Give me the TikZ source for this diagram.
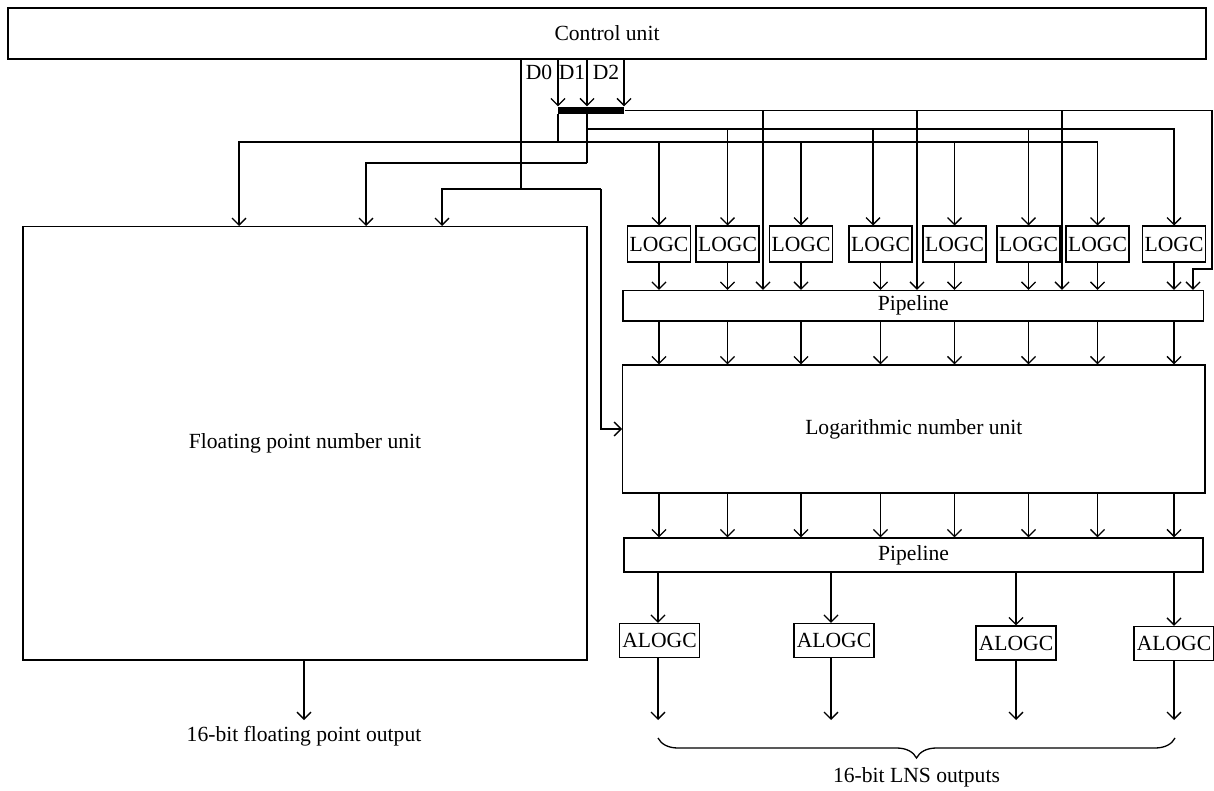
\documentclass[tikz,border=0pt]{standalone}
\usepackage{fontspec}
\setmainfont{Liberation Serif}
\usetikzlibrary{arrows.meta,decorations.pathreplacing,calc}
\begin{document}
\begin{tikzpicture}[x=0.5pt,y=-0.5pt,
  line width=0.65pt,
  font=\fontsize{10.8}{13}\selectfont,
  box/.style={draw, inner sep=0pt, line width=0.65pt},
  logc/.style={box, minimum width=31.5pt, minimum height=17.85pt},
  alogc/.style={box, minimum width=40pt, minimum height=17pt},
  arr/.style={-{Straight Barb[length=3.5pt,width=7pt,line width=0.65pt]}},
  ]
\useasboundingbox (0,0) rectangle (1214,791);
% main blocks
\node[box, minimum width=599pt, minimum height=25.5pt] (cu) at (607,33.5) {Control unit};
\node[box, minimum width=282pt, minimum height=216.7pt] (fpu) at (305,443.35) {Floating point number unit};
\node[box, minimum width=291.15pt, minimum height=64pt] (lnu) at (913.85,429) {Logarithmic number unit};
\node[box, minimum width=290.25pt, minimum height=15.25pt] (p1) at (913.25,305.75) {Pipeline};
\node[box, minimum width=289.5pt, minimum height=17pt] (p2) at (913.5,555) {Pipeline};
% LOGC row
\foreach \i/\x in {1/659,2/727.5,3/801,4/880.5,5/954.5,6/1028.5,7/1097.5,8/1174}
  \node[logc] (L\i) at (\x,244) {LOGC};
% ALOGC row
\node[alogc] (A1) at (659.5,640.5) {ALOGC};
\node[alogc] (A2) at (834,640.5) {ALOGC};
\node[alogc] (A3) at (1016,643) {ALOGC};
\node[alogc] (A4) at (1174,643.5) {ALOGC};
% labels
\node (d0) at (539,72) {D0};
\node (d1) at (572,72) {D1};
\node (d2) at (606,72) {D2};
\node (fout) at (304,736) {16-bit floating point output};
\node (lout) at (916.5,777) {16-bit LNS outputs};
% bus
\node[fill=black, inner sep=0pt, minimum width=33pt, minimum height=3.5pt] (bus) at (591,110.5) {};
\coordinate (b1) at (558,114);
\coordinate (b2) at (587,114);
\coordinate (b3) at (624,110.5);
\draw[arr] (b1 |- cu.south) -- (b1 |- bus.north);
\draw[arr] (b2 |- cu.south) -- (b2 |- bus.north);
\draw[arr] (b3 |- cu.south) -- (b3 |- bus.north);
% D0 line
\coordinate (j0) at (521,189);
\coordinate (jl) at (442,189);
\coordinate (jr) at (601,189);
\draw (j0 |- cu.south) -- (j0);
\draw[arr] (jr) -- (jl) -- (jl |- fpu.north);
\draw[arr] (jr) |- (lnu.west);
% line A (from right end of bus)
\coordinate (ra) at (1212,110.5);
\coordinate (rb) at (1193,269);
\draw[arr] (bus.east) -- (ra) |- (rb) -- (rb |- p1.north);
\foreach \x in {763,917,1062}{
  \coordinate (a\x) at (\x,110.5);
  \draw[arr] (a\x) -- (a\x |- p1.north);
}
% line B
\coordinate (bB) at (587,129);
\coordinate (bL) at (587,163);
\coordinate (fB) at (366,163);
\draw (b2) -- (bL);
\draw[arr] (bL) -- (fB) -- (fB |- fpu.north);
\draw[arr] (bB) -| (L8.north);
\draw[arr] (L2.north |- bB) -- (L2.north);
\coordinate (f4) at (873,129);
\draw[arr] (f4) -- (f4 |- L4.north);
\draw[arr] (L6.north |- bB) -- (L6.north);
% line C
\coordinate (cC) at (558,142);
\coordinate (fC) at (239,142);
\draw (b1) -- (cC);
\draw[arr] (cC) -- (fC) -- (fC |- fpu.north);
\draw[arr] (cC) -| (L7.north);
\draw[arr] (L1.north |- cC) -- (L1.north);
\draw[arr] (L3.north |- cC) -- (L3.north);
\draw[arr] (L5.north |- cC) -- (L5.north);
% LOGC -> pipeline -> LNU -> pipeline
\foreach \i in {1,...,8}{
  \draw[arr] (L\i.south) -- (L\i.south |- p1.north);
  \draw[arr] (L\i.south |- p1.south) -- (L\i.south |- lnu.north);
  \draw[arr] (L\i.south |- lnu.south) -- (L\i.south |- p2.north);
}
% pipeline -> ALOGC -> outputs
\foreach \j/\x in {1/658,2/831,3/1016,4/1174}{
  \coordinate (o\j) at (\x,720);
  \draw[arr] (o\j |- p2.south) -- (o\j |- A\j.north);
  \draw[arr] (o\j |- A\j.south) -- (o\j);
}
% FPU output
\coordinate (fo) at (304,720);
\draw[arr] (fo |- fpu.south) -- (fo);
% brace
\draw[decorate, decoration={brace, amplitude=10pt}] (1175,738) -- (658,738);
\end{tikzpicture}
\end{document}
